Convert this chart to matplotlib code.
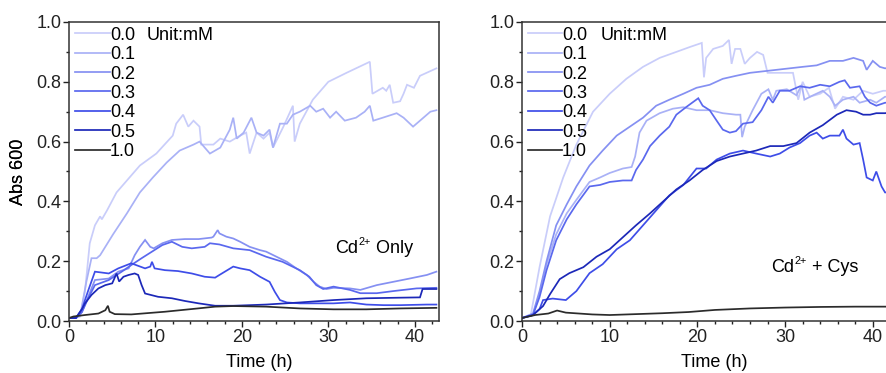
import matplotlib
matplotlib.use("Agg")
import matplotlib.pyplot as plt
from matplotlib.ticker import MultipleLocator, FormatStrFormatter

plt.rcParams['font.family'] = ['Liberation Sans', 'DejaVu Sans']

# ---------------- data ----------------
concentrations = ["0.0", "0.1", "0.2", "0.3", "0.4", "0.5", "1.0"]
colors = ["#c9cdfa", "#a9b1f6", "#8590f2", "#5a68ee", "#3e4de8", "#1c28b8", "#2b2b2b"]
panel_titles = [("Cd", "2+", " Only"), ("Cd", "2+", " + Cys")]

# Cd2+ only
cd_t_00 = [0, 0.8, 1.3, 1.85, 2.4, 3.0, 3.6, 3.8, 4.4, 5.5, 6.7, 8.2, 10.1, 12.0, 12.4, 13.2, 13.8, 14.4,
           15.1, 15.3, 16.7, 17.5, 18.6, 19.8, 20.5, 20.9, 21.7, 22.5, 23.2, 23.6, 24.8, 25.9, 26.1, 26.7,
           28.2, 30.0, 32.1, 34.8, 35.1, 36.3, 36.7, 37.1, 37.5, 38.3, 38.7, 39.1, 39.9, 40.6, 42.5]
cd_a_00 = [0.01, 0.01, 0.015, 0.10, 0.26, 0.32, 0.35, 0.34, 0.37, 0.43, 0.47, 0.52, 0.56, 0.62, 0.66, 0.69, 0.65, 0.67,
           0.65, 0.59, 0.59, 0.61, 0.60, 0.62, 0.63, 0.56, 0.63, 0.61, 0.63, 0.58, 0.65, 0.72, 0.60, 0.66,
           0.74, 0.80, 0.83, 0.867, 0.76, 0.78, 0.77, 0.79, 0.73, 0.735, 0.76, 0.79, 0.78, 0.82, 0.845]

cd_t_01 = [0, 0.8, 1.3, 2.0, 2.6, 3.2, 3.6, 5.1, 6.7, 8.2, 9.7, 11.3, 12.8, 14.4, 15.1, 16.3, 17.5, 18.6,
           19.0, 19.4, 20.2, 21.1, 21.7, 22.5, 23.2, 23.6, 24.4, 25.2, 25.9, 26.7, 27.9, 28.6, 29.4, 30.2,
           30.9, 31.9, 33.2, 34.2, 34.8, 35.2, 36.3, 37.9, 38.7, 39.8, 41.0, 41.8, 42.5]
cd_a_01 = [0.01, 0.01, 0.02, 0.13, 0.21, 0.21, 0.22, 0.29, 0.36, 0.43, 0.48, 0.53, 0.57, 0.59, 0.60, 0.56, 0.58, 0.64,
           0.68, 0.61, 0.63, 0.68, 0.63, 0.62, 0.64, 0.58, 0.66, 0.66, 0.69, 0.70, 0.72, 0.70, 0.71, 0.68,
           0.70, 0.67, 0.68, 0.70, 0.72, 0.67, 0.68, 0.695, 0.68, 0.65, 0.68, 0.70, 0.705]

cd_t_02 = [0, 0.8, 1.5, 2.2, 3.0, 4.6, 5.7, 6.9, 7.6, 8.2, 8.8, 9.4, 9.8, 10.8, 11.9, 13.4, 15.0, 16.5,
           16.7, 17.2, 17.4, 18.2, 19.0, 19.8, 20.9, 22.1, 22.8, 24.0, 25.2, 26.3, 27.5, 28.3, 29.0, 29.8,
           30.6, 32.5, 33.7, 35.6, 37.5, 39.4, 41.4, 42.5]
cd_a_02 = [0.01, 0.01, 0.03, 0.08, 0.137, 0.142, 0.165, 0.176, 0.22, 0.248, 0.271, 0.248, 0.243, 0.26, 0.271, 0.274, 0.274, 0.279,
           0.282, 0.304, 0.293, 0.282, 0.276, 0.265, 0.248, 0.237, 0.232, 0.215, 0.198, 0.176, 0.154, 0.131, 0.115, 0.107,
           0.111, 0.109, 0.104, 0.12, 0.131, 0.142, 0.154, 0.165]

cd_t_03 = [0, 0.8, 1.5, 2.2, 3.0, 4.6, 6.1, 7.2, 8.4, 9.6, 10.8, 11.9, 13.1, 14.2, 15.7, 16.3, 17.4, 19.0,
           20.9, 22.8, 24.7, 26.7, 27.8, 28.6, 29.4, 30.6, 32.5, 33.7, 35.6, 37.5, 40.2, 42.5]
cd_a_03 = [0.01, 0.01, 0.03, 0.075, 0.12, 0.137, 0.165, 0.187, 0.21, 0.232, 0.254, 0.265, 0.248, 0.243, 0.248, 0.26, 0.256, 0.243,
           0.237, 0.215, 0.198, 0.17, 0.148, 0.12, 0.107, 0.115, 0.104, 0.093, 0.093, 0.10, 0.109, 0.111]

cd_t_04 = [0, 0.8, 1.5, 2.2, 3.0, 4.6, 5.7, 7.2, 8.8, 9.4, 9.6, 9.9, 11.1, 12.6, 14.2, 15.7, 16.9, 17.4,
           19.0, 19.8, 20.9, 22.1, 23.2, 23.8, 24.4, 25.2, 26.7, 30.6, 32.5, 34.4, 36.4, 38.3, 41.4, 42.5]
cd_a_04 = [0.01, 0.01, 0.04, 0.10, 0.165, 0.159, 0.176, 0.193, 0.176, 0.182, 0.198, 0.176, 0.17, 0.167, 0.159, 0.148, 0.145, 0.154,
           0.182, 0.176, 0.17, 0.148, 0.131, 0.098, 0.07, 0.062, 0.059, 0.059, 0.062, 0.055, 0.053, 0.053, 0.055, 0.055]

cd_t_05 = [0, 0.8, 1.5, 1.85, 2.6, 3.4, 4.2, 5.0, 5.5, 5.8, 6.3, 6.9, 7.6, 8.0, 8.4, 8.8, 10.3, 11.9,
           13.4, 15.0, 16.9, 19.0, 22.8, 26.7, 30.6, 34.4, 38.3, 40.6, 40.9, 42.5]
cd_a_05 = [0.01, 0.01, 0.04, 0.059, 0.087, 0.109, 0.12, 0.126, 0.159, 0.132, 0.148, 0.154, 0.159, 0.154, 0.12, 0.092, 0.081, 0.076,
           0.067, 0.059, 0.051, 0.051, 0.055, 0.062, 0.07, 0.076, 0.078, 0.079, 0.107, 0.107]

cd_t_10 = [0, 0.5, 1.85, 3.4, 4.2, 4.5, 4.7, 5.3, 7.2, 11.1, 14.9, 16.9, 19.0, 22.8, 26.7, 30.6, 34.4, 38.3, 42.5]
cd_a_10 = [0.01, 0.015, 0.02, 0.025, 0.036, 0.051, 0.031, 0.023, 0.022, 0.031, 0.042, 0.048, 0.05, 0.048, 0.042, 0.039, 0.039, 0.042, 0.044]

# Cd2+ + Cys
cys_t_00 = [0, 1.0, 2.0, 3.2, 4.7, 6.2, 8.1, 10.0, 11.9, 13.8, 15.7, 17.6, 19.2, 20.5, 20.75, 21.0, 21.8, 22.9,
            23.6, 23.9, 24.3, 24.9, 25.4, 26.0, 26.8, 27.5, 28.0, 29.4, 30.9, 31.5, 32.0, 32.8, 34.0, 35.0,
            35.7, 36.6, 37.8, 38.9, 40.0, 41.2, 42.5]
cys_a_00 = [0.01, 0.02, 0.18, 0.35, 0.48, 0.59, 0.70, 0.76, 0.81, 0.85, 0.88, 0.90, 0.917, 0.93, 0.815, 0.88, 0.91, 0.92,
            0.94, 0.86, 0.91, 0.91, 0.86, 0.88, 0.90, 0.89, 0.83, 0.83, 0.83, 0.74, 0.80, 0.75, 0.76, 0.78,
            0.71, 0.75, 0.74, 0.77, 0.76, 0.77, 0.77]

cys_t_01 = [0, 1.25, 2.0, 2.8, 3.9, 5.1, 6.2, 7.7, 8.9, 10.0, 11.5, 12.5, 12.9, 13.4, 14.2, 15.7, 17.2, 18.4,
            19.9, 21.4, 22.9, 24.4, 24.9, 25.1, 25.4, 26.3, 27.3, 28.1, 28.6, 29.0, 30.2, 31.3, 31.9, 32.2,
            33.2, 34.3, 35.1, 35.7, 36.6, 37.8, 38.5, 39.7, 40.4, 41.4, 42.5]
cys_a_01 = [0.01, 0.02, 0.09, 0.19, 0.29, 0.36, 0.405, 0.465, 0.48, 0.495, 0.51, 0.515, 0.55, 0.63, 0.67, 0.695, 0.71, 0.715,
            0.705, 0.705, 0.695, 0.69, 0.69, 0.615, 0.65, 0.705, 0.76, 0.775, 0.74, 0.77, 0.775, 0.755, 0.79, 0.74,
            0.755, 0.77, 0.75, 0.72, 0.74, 0.75, 0.73, 0.74, 0.73, 0.75, 0.75]

cys_t_02 = [0, 1.25, 2.0, 2.8, 3.9, 5.1, 6.2, 7.7, 9.2, 10.8, 12.3, 13.8, 15.3, 16.8, 18.4, 19.9, 21.4, 22.9,
            24.4, 26.0, 27.5, 29.0, 30.5, 32.0, 33.6, 35.1, 36.6, 37.8, 38.9, 39.3, 40.0, 40.8, 41.4, 42.5]
cys_a_02 = [0.01, 0.025, 0.10, 0.20, 0.32, 0.39, 0.45, 0.52, 0.57, 0.62, 0.65, 0.68, 0.72, 0.74, 0.76, 0.78, 0.79, 0.81,
            0.82, 0.83, 0.835, 0.84, 0.845, 0.85, 0.855, 0.87, 0.87, 0.88, 0.87, 0.84, 0.87, 0.85, 0.845, 0.85]

cys_t_03 = [0, 1.25, 2.0, 2.8, 3.9, 5.1, 6.2, 7.7, 8.9, 10.0, 11.5, 12.5, 13.0, 13.8, 14.6, 15.7, 16.8, 17.6,
            18.7, 20.1, 20.6, 21.4, 22.2, 22.9, 23.7, 24.4, 25.2, 26.3, 27.3, 28.1, 28.6, 29.4, 30.5, 31.7,
            32.8, 34.0, 35.1, 36.2, 36.8, 37.4, 38.5, 39.1, 39.7, 40.4, 41.4, 42.5]
cys_a_03 = [0.01, 0.02, 0.08, 0.17, 0.27, 0.34, 0.39, 0.45, 0.455, 0.465, 0.47, 0.47, 0.505, 0.54, 0.585, 0.62, 0.65, 0.69,
            0.715, 0.745, 0.72, 0.705, 0.67, 0.64, 0.63, 0.635, 0.66, 0.665, 0.705, 0.75, 0.73, 0.77, 0.77, 0.785,
            0.78, 0.79, 0.785, 0.80, 0.805, 0.78, 0.785, 0.75, 0.73, 0.72, 0.73, 0.73]

cys_t_04 = [0, 1.25, 2.0, 2.4, 3.5, 5.0, 6.2, 7.7, 9.2, 10.8, 12.3, 13.8, 15.3, 16.8, 18.4, 19.9, 21.0, 22.2,
            23.7, 25.2, 26.7, 28.3, 29.4, 30.5, 31.7, 32.8, 33.6, 34.3, 35.1, 36.2, 36.6, 37.0, 37.8, 38.5,
            38.9, 39.3, 40.0, 40.4, 41.0, 41.4, 42.5]
cys_a_04 = [0.01, 0.02, 0.04, 0.07, 0.075, 0.07, 0.10, 0.16, 0.19, 0.24, 0.27, 0.32, 0.37, 0.42, 0.455, 0.51, 0.51, 0.54,
            0.56, 0.57, 0.56, 0.55, 0.56, 0.58, 0.595, 0.62, 0.63, 0.61, 0.62, 0.62, 0.64, 0.61, 0.59, 0.595,
            0.54, 0.48, 0.47, 0.50, 0.45, 0.43, 0.43]

cys_t_05 = [0, 1.25, 2.4, 3.2, 4.3, 5.4, 7.0, 8.5, 10.0, 11.5, 13.0, 14.6, 16.1, 17.6, 19.1, 20.6, 22.2, 23.7,
            25.2, 26.7, 28.3, 29.8, 31.3, 32.8, 34.3, 35.9, 37.0, 38.1, 38.9, 39.7, 40.4, 41.4, 42.5]
cys_a_05 = [0.01, 0.02, 0.05, 0.09, 0.14, 0.16, 0.18, 0.215, 0.24, 0.28, 0.32, 0.36, 0.40, 0.44, 0.47, 0.505, 0.535, 0.55,
            0.56, 0.57, 0.585, 0.585, 0.595, 0.63, 0.655, 0.69, 0.705, 0.70, 0.69, 0.69, 0.695, 0.695, 0.70]

cys_t_10 = [0, 1.5, 3.0, 4.0, 5.0, 8.0, 10.0, 13.0, 16.0, 19.0, 22.0, 26.0, 30.0, 34.0, 38.0, 42.5]
cys_a_10 = [0.01, 0.02, 0.025, 0.035, 0.028, 0.022, 0.02, 0.023, 0.026, 0.03, 0.037, 0.042, 0.045, 0.047, 0.048, 0.048]

panels = [
    [(cd_t_00, cd_a_00), (cd_t_01, cd_a_01), (cd_t_02, cd_a_02), (cd_t_03, cd_a_03),
     (cd_t_04, cd_a_04), (cd_t_05, cd_a_05), (cd_t_10, cd_a_10)],
    [(cys_t_00, cys_a_00), (cys_t_01, cys_a_01), (cys_t_02, cys_a_02), (cys_t_03, cys_a_03),
     (cys_t_04, cys_a_04), (cys_t_05, cys_a_05), (cys_t_10, cys_a_10)],
]

# ---------------- figure ----------------
W, H = 886, 373
fig = plt.figure(figsize=(W / 100, H / 100), dpi=100)
axes_px = [(69, 439), (522, 894.7)]
top_px, bottom_px = 22, 321
note_pos = [(30.8, 0.247), (28.4, 0.184)]
FS = 13


def draw_note(ax, x, y, parts):
    """Write 'Cd' + superscript charge + remainder as adjacent text pieces."""
    base, sup, rest = parts
    t1 = ax.text(x, y, base, fontsize=FS, va='baseline', ha='left')
    fig.canvas.draw()
    r = fig.canvas.get_renderer()
    bb = t1.get_window_extent(r)
    inv = ax.transData.inverted()
    x2 = inv.transform((bb.x1, bb.y0))[0]
    t2 = ax.annotate(sup, (x2, y), xytext=(0.5, 6), textcoords='offset points',
                     fontsize=FS * 0.6, va='baseline', ha='left')
    bb2 = t2.get_window_extent(r)
    x3 = inv.transform((bb2.x1, bb.y0))[0]
    ax.text(x3, y, rest, fontsize=FS, va='baseline', ha='left')


for k, ax_px in enumerate(axes_px):
    x0, x1 = ax_px
    ax = fig.add_axes([x0 / W, 1 - bottom_px / H, (x1 - x0) / W, (bottom_px - top_px) / H])
    for (t, a), c in zip(panels[k], colors):
        ax.plot(t, a, color=c, lw=1.25, solid_joinstyle='miter')

    ax.set_xlim(0, 42.8 if k == 0 else 42.5)
    ax.set_ylim(0, 1.0)
    ax.xaxis.set_major_locator(MultipleLocator(10))
    ax.xaxis.set_minor_locator(MultipleLocator(2))
    ax.yaxis.set_major_locator(MultipleLocator(0.2))
    ax.yaxis.set_minor_locator(MultipleLocator(0.1))
    ax.yaxis.set_major_formatter(FormatStrFormatter('%.1f'))
    ax.tick_params(which='major', direction='out', length=4, width=1.0, labelsize=FS,
                   pad=1.5, colors='#222222')
    ax.tick_params(which='minor', direction='out', length=2.5, width=1.0, colors='#222222')
    for sp in ax.spines.values():
        sp.set_linewidth(1.1)
        sp.set_color('#333333')

    ax.set_ylabel("Abs 600", fontsize=FS)
    ax.set_xlabel("Time (h)", fontsize=FS, va='top')
    ax.yaxis.set_label_coords((27 - x0) / (x1 - x0), 0.5)
    ax.xaxis.set_label_coords((259 - x0) / (x1 - x0) if k == 0 else (714 - x0) / (x1 - x0), -0.112)

    # legend drawn as short line samples beside the labels
    h0 = 0.016
    h1 = (110 - x0) / (x1 - x0) if k == 0 else (562 - x0) / (x1 - x0)
    for i, (lab, c) in enumerate(zip(concentrations, colors)):
        y = 0.962 - i * 0.0648
        ax.plot([h0, h1], [y, y], color=c, lw=1.25, transform=ax.transAxes)
        ax.text(h1, y, lab, transform=ax.transAxes, fontsize=FS, va='center_baseline', ha='left')
    ux = (147 - x0) / (x1 - x0) if k == 0 else (601 - x0) / (x1 - x0)
    ax.text(ux, 0.962, "Unit:mM", transform=ax.transAxes, fontsize=FS, va='center_baseline', ha='left')

    draw_note(ax, note_pos[k][0], note_pos[k][1] - 0.02, panel_titles[k])

fig.savefig("out.png", dpi=100)
